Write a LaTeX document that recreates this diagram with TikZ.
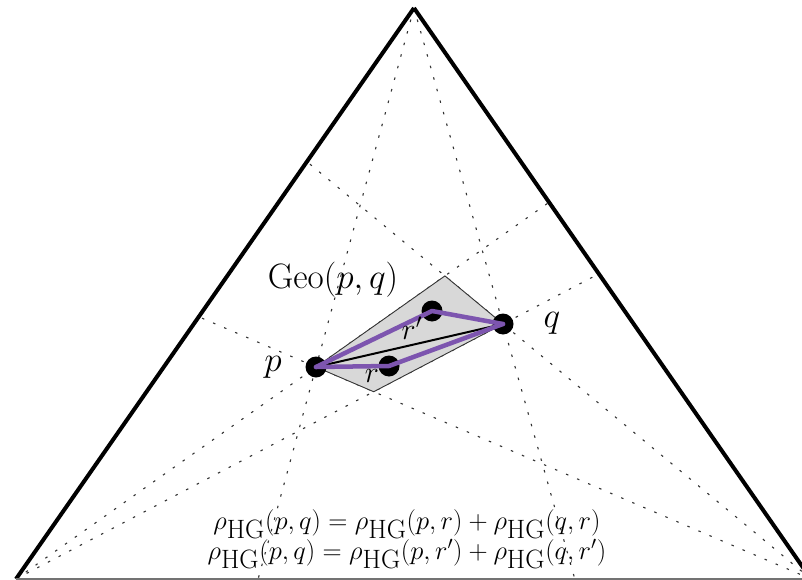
\documentclass[tikz,border=0pt]{standalone}
\usetikzlibrary{calc}
\definecolor{geopurple}{RGB}{125,85,175}
\definecolor{regiongray}{RGB}{216,216,216}
\tikzset{
  side/.style={line width=4pt, line join=miter},
  guide/.style={line width=1.1pt, black!80, dash pattern=on 2.5pt off 9.5pt},
  dot/.style={circle, fill=black, inner sep=0pt, minimum size=21pt},
  region/.style={fill=regiongray, draw=black!80, line width=0.9pt},
  geoline/.style={line width=4.5pt, geopurple, line join=round, line cap=round},
  chord/.style={line width=2pt, black},
  lbl/.style={font=\fontsize{20}{24}\selectfont, scale=1.7},
  rlbl/.style={font=\fontsize{20}{24}\selectfont, scale=1.45},
  formula/.style={font=\fontsize{20}{22.5}\selectfont, align=center, scale=1.28}
}
\newcommand{\rhg}{\rho_{\textstyle\mathrm{HG}}}
\begin{document}
\begin{tikzpicture}[x=1pt,y=-1pt]
\useasboundingbox (0,0) rectangle (802,580);
\clip (0,0) rectangle (802,580);
\coordinate (A) at (414,8);
\coordinate (L) at (16,579);
\coordinate (R) at (811,579);
\coordinate (P) at (316,367);
\coordinate (Q) at (503,324);
\coordinate (RR) at (389,366);
\coordinate (RP) at (432,311);
% guide lines
\begin{scope}
\clip (A)--(L)--(R)--cycle;
\foreach \v in {A,L,R}{
  \draw[guide] (\v) -- ($(\v)!4!(P)$);
  \draw[guide] (\v) -- ($(\v)!4!(Q)$);
}
\end{scope}
% region
\coordinate (T) at (intersection of L--P and R--Q);
\coordinate (B) at (intersection of L--Q and R--P);
\filldraw[region] (P) -- (T) -- (Q) -- (B) -- cycle;
% triangle
\draw[side] (A) -- (L);
\draw[side] (A) -- (R);
\draw[line width=1.5pt, black!55] (L) -- (R);
% dots
\node[dot] (p) at (P) {};
\node[dot] (q) at (Q) {};
\node[dot] (r) at (RR) {};
\node[dot] (rp) at (RP) {};
\draw[chord] (p.center) -- (q.center);
\draw[geoline] (p.center) -- (r.center) -- (q.center);
\draw[geoline] (p.center) -- (rp.center) -- (q.center);
% labels
\node[lbl] (geo) at (333,280) {$\mathrm{Geo}(p,q)$};
\node[lbl] (plab) at (273,367) {$p$};
\node[lbl] (qlab) at (552,323) {$q$};
\node[rlbl] (rplab) at (412,328) {$r'$};
\node[rlbl] (rlab) at (372,376) {$r$};
\node[formula] (eqs) at (407,539) {$\rhg(p,q) = \rhg(p,r) + \rhg(q,r)$\\
$\rhg(p,q) = \rhg(p,r') + \rhg(q,r')$};
\end{tikzpicture}
\end{document}
